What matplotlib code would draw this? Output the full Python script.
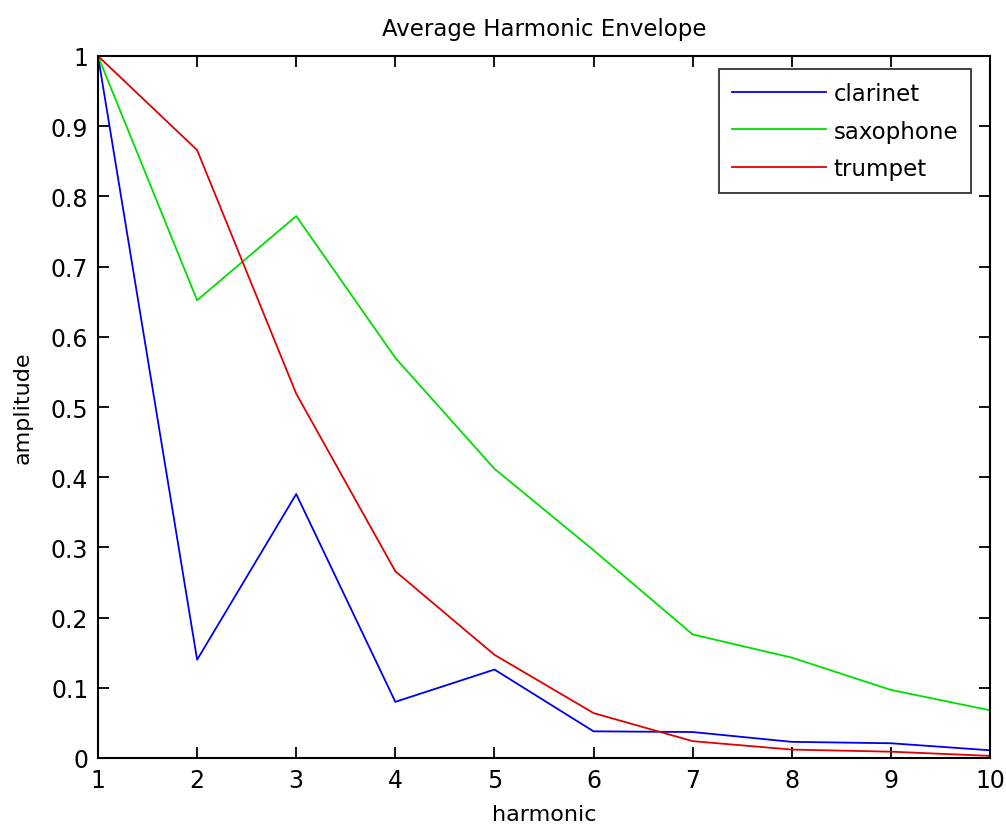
import matplotlib
matplotlib.use("Agg")
import matplotlib.pyplot as plt

harmonic = [1, 2, 3, 4, 5, 6, 7, 8, 9, 10]
clarinet = [1.0, 0.140, 0.376, 0.080, 0.126, 0.038, 0.037, 0.023, 0.021, 0.011]
saxophone = [1.0, 0.652, 0.772, 0.570, 0.412, 0.296, 0.176, 0.143, 0.097, 0.068]
trumpet = [1.0, 0.866, 0.519, 0.266, 0.147, 0.064, 0.024, 0.012, 0.009, 0.003]

xticks = [1, 2, 3, 4, 5, 6, 7, 8, 9, 10]
yticks = [0, 0.1, 0.2, 0.3, 0.4, 0.5, 0.6, 0.7, 0.8, 0.9, 1]
ytick_labels = ["0", "0.1", "0.2", "0.3", "0.4", "0.5", "0.6", "0.7", "0.8", "0.9", "1"]

plt.rcParams['font.family'] = ['DejaVu Sans']

fig = plt.figure(figsize=(10.06, 8.29), dpi=100)
ax = fig.add_axes([98/1006, 1 - 759/829, (990-98)/1006, (759-57)/829])

ax.plot(harmonic, clarinet, color='#0000ee', lw=1.3, label='clarinet')
ax.plot(harmonic, saxophone, color='#00dd00', lw=1.3, label='saxophone')
ax.plot(harmonic, trumpet, color='#e00000', lw=1.3, label='trumpet')

ax.set_xlim(1, 10)
ax.set_ylim(0, 1)
ax.set_xticks(xticks)
ax.set_xticklabels([str(v) for v in xticks])
ax.set_yticks(yticks)
ax.set_yticklabels(ytick_labels)
ax.tick_params(direction='in', length=8, width=1.3, top=True, right=True,
               labelsize=17, pad=7, colors='black')
for s in ax.spines.values():
    s.set_linewidth(1.5)

ax.set_xlabel('harmonic', fontsize=16, labelpad=9)
ax.set_ylabel('amplitude', fontsize=16, labelpad=13)
ax.set_title('Average Harmonic Envelope', fontsize=16.5, pad=15)

leg = ax.legend(loc='upper right', bbox_to_anchor=((971-98)/892, (759-70)/702),
                borderaxespad=0, fontsize=16.5, frameon=True, fancybox=False,
                edgecolor='black', handlelength=4.1, handletextpad=0.35,
                borderpad=0.55, labelspacing=0.65)
leg.get_frame().set_linewidth(1.3)

fig.savefig('out.png', dpi=100, facecolor='white')
